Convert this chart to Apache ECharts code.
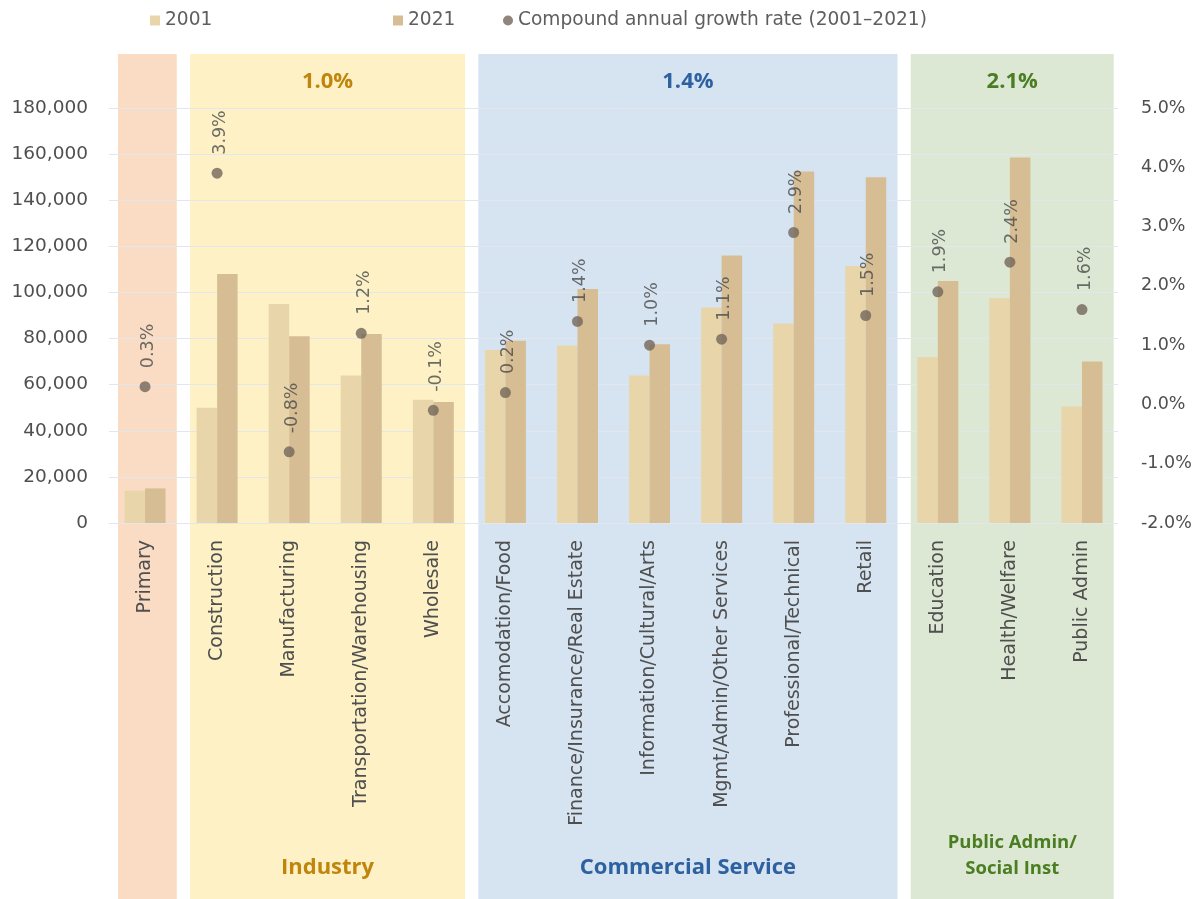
<!DOCTYPE html>
<html>
<head>
<meta charset="utf-8">
<title>Employment by sector, 2001 and 2021</title>
<script src="https://cdn.jsdelivr.net/npm/echarts@6/dist/echarts.min.js"></script>
<style>
  html, body { margin: 0; padding: 0; background: #ffffff; }
  #chart { width: 1200px; height: 899px; }
</style>
</head>
<body>
<div id="chart"></div>
<script>
// Sectors along the x axis
const categories = [
  'Primary', 'Construction', 'Manufacturing', 'Transportation/Warehousing', 'Wholesale',
  'Accomodation/Food', 'Finance/Insurance/Real Estate', 'Information/Cultural/Arts',
  'Mgmt/Admin/Other Services', 'Professional/Technical', 'Retail',
  'Education', 'Health/Welfare', 'Public Admin'
];
// Jobs by sector
const jobs2001 = [14000, 50000, 95000, 64000, 53500, 75000, 77000, 64000, 93500, 86500, 111500, 72000, 97500, 50500];
const jobs2021 = [15000, 108000, 81000, 82000, 52500, 79000, 101500, 77500, 116000, 152500, 150000, 105000, 158500, 70000];
// Compound annual growth rate 2001-2021, percent
const cagr = [0.3, 3.9, -0.8, 1.2, -0.1, 0.2, 1.4, 1.0, 1.1, 2.9, 1.5, 1.9, 2.4, 1.6];

// Sector groups: first and last category index, name and group growth rate
const groupStart = [0, 1, 5, 11];
const groupEnd = [0, 4, 10, 13];
const groupNames = ['', 'Industry', 'Commercial Service', 'Public Admin/\nSocial Inst'];
const groupRates = ['', '1.0%', '1.4%', '2.1%'];

// Group styling
const bandFill = ['#f9dcc3', '#fdf1c5', '#d6e4f2', '#dce8d3'];
const groupInk = ['#000', '#c0850c', '#2e619f', '#4b7d22'];
const groupNameFont = ['', 'bold 22px "Open Sans"', 'bold 22px "Open Sans"', 'bold 18.5px "Open Sans"'];

const CAGR_NAME = 'Compound annual growth rate (2001\u20132021)';
const axisFont = 'DejaVu Sans';
const labelInk = '#4f4f4f';

const chart = echarts.init(document.getElementById('chart'), null, { renderer: 'canvas' });

const legendText = { color: '#5e5e5e', fontSize: 18.6, fontFamily: axisFont };

const option = {
  backgroundColor: '#ffffff',
  animation: false,
  grid: { left: 109, right: 82, top: 108, bottom: 376, containLabel: false },
  legend: [
    { data: ['2001'], left: 145, top: 6, icon: 'rect', itemWidth: 10, itemHeight: 10, textStyle: legendText },
    { data: ['2021'], left: 388, top: 6, icon: 'rect', itemWidth: 10, itemHeight: 10, textStyle: legendText },
    { data: [{ name: CAGR_NAME, icon: 'circle' }], left: 498, top: 6, itemWidth: 10, itemHeight: 10, textStyle: legendText }
  ],
  xAxis: {
    type: 'category',
    data: categories,
    axisLine: { show: false },
    axisTick: { show: false },
    axisLabel: {
      rotate: 90,
      interval: 0,
      margin: 17,
      color: labelInk,
      fontSize: 19,
      fontFamily: axisFont
    }
  },
  yAxis: [
    {
      type: 'value',
      min: 0,
      max: 180000,
      interval: 20000,
      axisLine: { show: false },
      axisTick: { show: false },
      splitLine: { lineStyle: { color: '#e2e7ee', width: 1 } },
      axisLabel: {
        margin: 21,
        color: labelInk,
        fontSize: 18.5,
        fontFamily: axisFont,
        formatter: v => v.toLocaleString('en-US')
      }
    },
    {
      type: 'value',
      min: -2,
      max: 5,
      interval: 1,
      axisLine: { show: false },
      axisTick: { show: false },
      splitLine: { show: false },
      axisLabel: {
        margin: 23,
        color: labelInk,
        fontSize: 17.5,
        fontFamily: axisFont,
        formatter: v => v.toFixed(1) + '%'
      }
    }
  ],
  series: [
    {
      // Coloured group bands with group titles
      type: 'custom',
      z: -1,
      silent: true,
      clip: false,
      xAxisIndex: 0,
      yAxisIndex: 0,
      encode: { x: [0, 1], y: 2 },
      data: groupStart.map((s, k) => [s, groupEnd[k], 0]),
      renderItem: function (params, api) {
        const k = params.dataIndex;
        const a = api.coord([api.value(0), 0]);
        const b = api.coord([api.value(1), 0]);
        const bw = api.size([1, 0])[0];
        const x0 = a[0] - bw * 0.375;
        const x1 = b[0] + bw * 0.44;
        const cx = (x0 + x1) / 2;
        const top = 54, bottom = 899;
        const children = [{
          type: 'rect',
          shape: { x: x0, y: top, width: x1 - x0, height: bottom - top },
          style: { fill: bandFill[k] }
        }];
        if (groupRates[k]) {
          children.push({
            type: 'text',
            style: {
              text: groupRates[k], x: cx, y: 82,
              align: 'center', verticalAlign: 'middle',
              fill: groupInk[k], font: 'bold 22px "Open Sans"'
            }
          });
        }
        if (groupNames[k]) {
          const twoLines = groupNames[k].indexOf('\n') >= 0;
          children.push({
            type: 'text',
            style: {
              text: groupNames[k], x: cx, y: twoLines ? 856 : 868,
              align: 'center', verticalAlign: 'middle',
              fill: groupInk[k], font: groupNameFont[k],
              lineHeight: 26
            }
          });
        }
        return { type: 'group', children: children };
      }
    },
    {
      name: '2001',
      type: 'bar',
      data: jobs2001,
      barWidth: 20.5,
      barGap: '0%',
      itemStyle: { color: '#e9d5aa' }
    },
    {
      name: '2021',
      type: 'bar',
      data: jobs2021,
      barWidth: 20.5,
      barGap: '0%',
      itemStyle: { color: '#d6bd93' }
    },
    {
      name: CAGR_NAME,
      type: 'scatter',
      yAxisIndex: 1,
      data: cagr,
      symbol: 'circle',
      symbolSize: 11,
      z: 5,
      itemStyle: { color: '#73675b' },
      label: {
        show: true,
        position: 'top',
        distance: 13,
        rotate: 90,
        align: 'left',
        verticalAlign: 'middle',
        offset: [0, 3],
        color: '#4a4a4a',
        fontSize: 17.5,
        fontFamily: axisFont,
        formatter: p => p.value.toFixed(1) + '%'
      }
    }
  ]
};

chart.setOption(option);
</script>
</body>
</html>
